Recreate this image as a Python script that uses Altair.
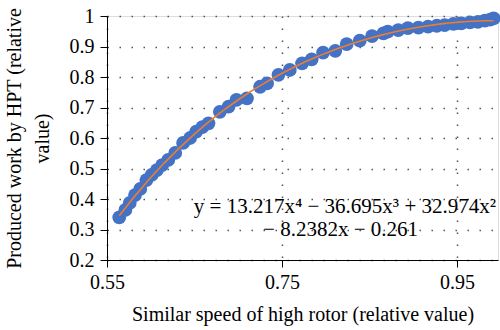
import altair as alt
import pandas as pd

# Similar speed of high rotor (relative value)
speed = [0.564, 0.571, 0.576, 0.582, 0.588, 0.595, 0.601, 0.607, 0.613, 0.620,
         0.628, 0.637, 0.645, 0.652, 0.659, 0.666, 0.679, 0.689, 0.698, 0.710,
         0.725, 0.733, 0.746, 0.759, 0.773, 0.784, 0.797, 0.811, 0.824, 0.839,
         0.853, 0.866, 0.871, 0.883, 0.894, 0.906, 0.917, 0.927, 0.936, 0.946,
         0.955, 0.965, 0.974, 0.982, 0.988, 0.992]
# Produced work by HPT (relative value)
work = [0.340, 0.364, 0.387, 0.413, 0.433, 0.462, 0.479, 0.495, 0.511, 0.528,
        0.551, 0.584, 0.600, 0.621, 0.636, 0.648, 0.686, 0.703, 0.725, 0.730,
        0.768, 0.779, 0.807, 0.823, 0.845, 0.858, 0.880, 0.886, 0.908, 0.919,
        0.934, 0.943, 0.949, 0.954, 0.960, 0.962, 0.965, 0.968, 0.970, 0.974,
        0.976, 0.979, 0.981, 0.985, 0.988, 0.992]

x_ticks = [0.55, 0.75, 0.95]
y_ticks = [0.2, 0.3, 0.4, 0.5, 0.6, 0.7, 0.8, 0.9, 1.0]

eq_lines = ["y = 13.217x\u2074 \u2212 36.695x\u00b3 + 32.974x\u00b2", "\u2212 8.2382x \u2212 0.261"]
eq_x = [0.822, 0.817]
eq_y = [0.374, 0.298]

df = pd.DataFrame({"speed": speed, "work": work})
eq_df = pd.DataFrame({"text": eq_lines, "x": eq_x, "y": eq_y})

FONT = "Liberation Serif"
FS = 20

xscale = alt.Scale(domain=[0.55, 0.997], nice=False, zero=False)
yscale = alt.Scale(domain=[0.2, 1.0], nice=False, zero=False)

xaxis = alt.Axis(values=x_ticks, format=".2f",
                 title="Similar speed of high rotor (relative value)",
                 grid=True, gridDash=[1.5, 10.5], gridColor="#555", gridWidth=1.5,
                 tickSize=7, tickColor="black", domainColor="black",
                 labelFont=FONT, labelFontSize=FS, labelColor="black", labelPadding=5,
                 labelOverlap=False,
                 titleFont=FONT, titleFontSize=FS, titleFontWeight="normal",
                 titleColor="black", titlePadding=12, labelFlush=False)
yaxis = alt.Axis(values=y_ticks, format="~g",
                 title=["Produced work by HPT (relative", "value)"],
                 grid=True, gridDash=[1.5, 10.5], gridColor="#555", gridWidth=1.5,
                 tickSize=7, tickColor="black", domainColor="black",
                 labelFont=FONT, labelFontSize=FS, labelColor="black", labelPadding=6,
                 labelOverlap=False,
                 titleFont=FONT, titleFontSize=FS, titleFontWeight="normal",
                 titleColor="black", titleLineHeight=28, titlePadding=17, labelFlush=False)

X = alt.X("speed:Q", scale=xscale, axis=xaxis)
Y = alt.Y("work:Q", scale=yscale, axis=yaxis)

points = alt.Chart(df).mark_circle(size=190, color="#4472C4", opacity=1).encode(x=X, y=Y)

fit = alt.Chart(df).transform_regression(
    "speed", "work", method="poly", order=4
).mark_line(color="#ED7D31", strokeWidth=1.6).encode(x=X, y=Y)

eq = alt.Chart(eq_df).mark_text(font=FONT, fontSize=21, color="black", align="center",
                                baseline="middle").encode(
    x=alt.X("x:Q", scale=xscale, axis=xaxis),
    y=alt.Y("y:Q", scale=yscale, axis=yaxis),
    text="text:N",
)

chart = alt.layer(points, fit, eq).properties(
    width=391, height=244,
    autosize=alt.AutoSizeParams(type="none"),
    padding={"left": 107, "top": 16, "right": 2, "bottom": 70},
).configure_view(stroke="black", strokeWidth=1.2).configure(background="white")

chart.save("out.html", embed_options={"renderer": "svg", "actions": False})
